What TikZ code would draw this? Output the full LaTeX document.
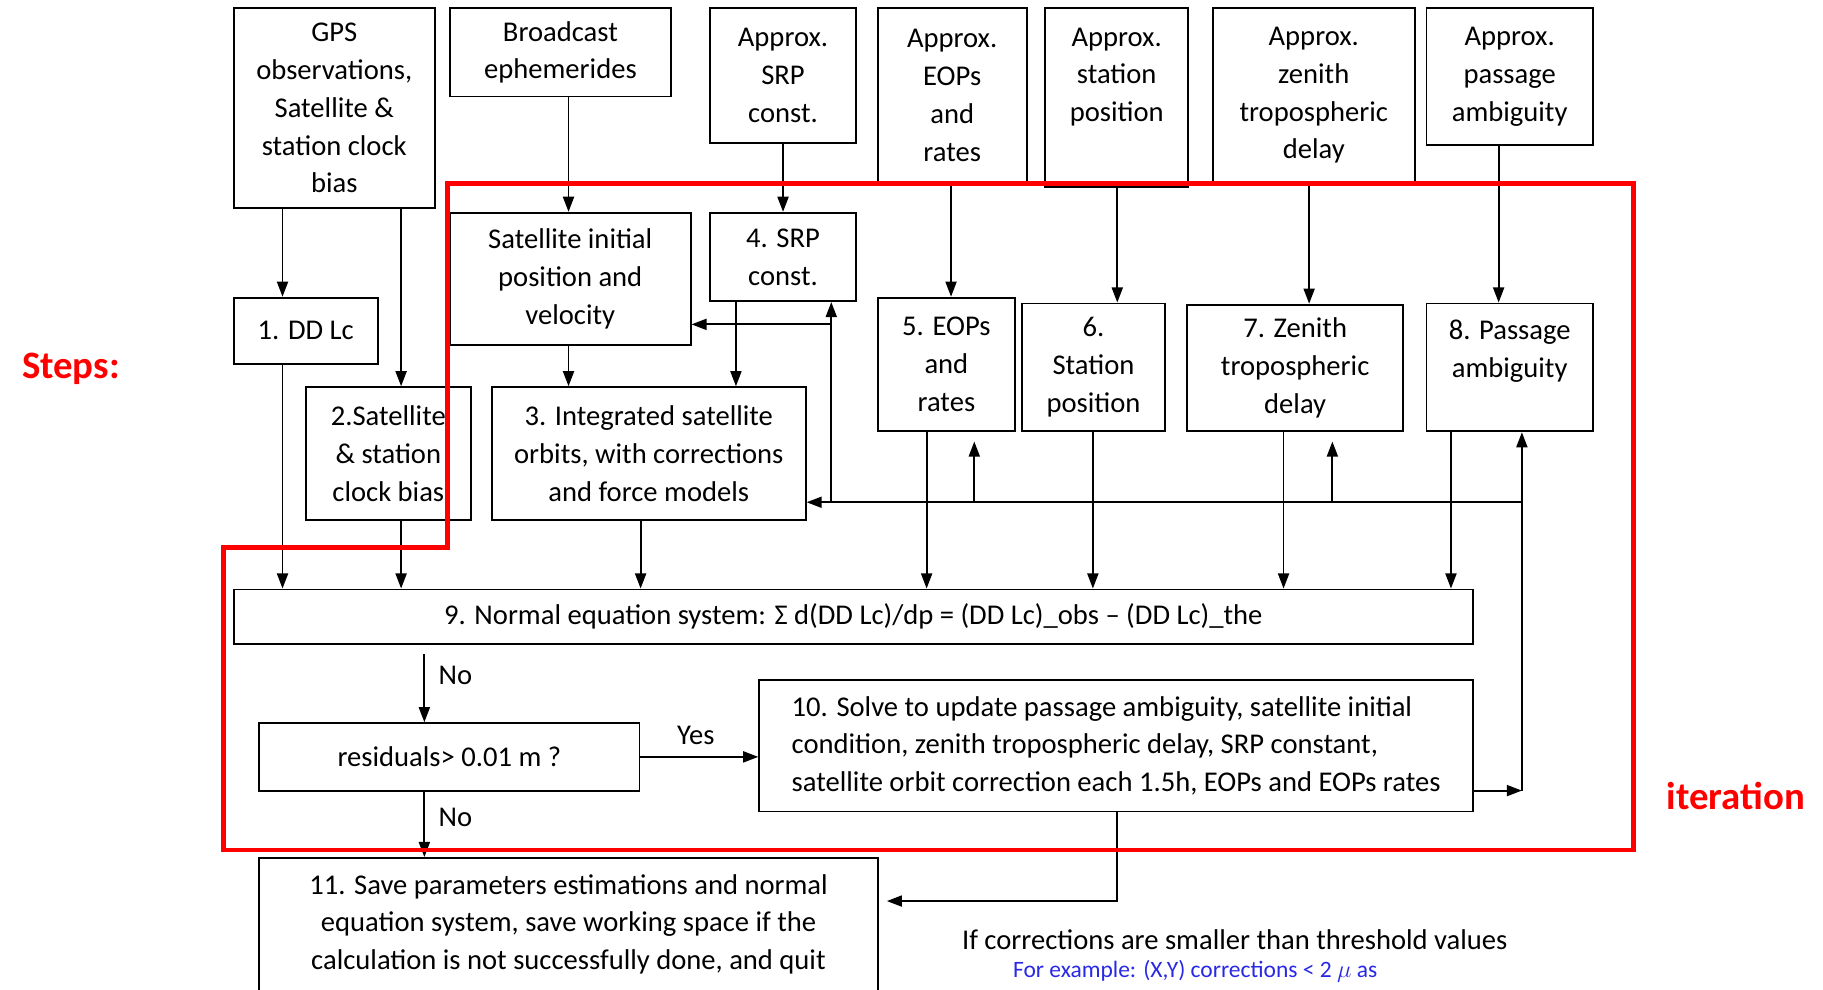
\documentclass[tikz,border=0pt]{standalone}
\usepackage{fontspec}
\setmainfont{Carlito}
\usepackage{xcolor}
\usepackage{tikz}
\usetikzlibrary{positioning, arrows.meta, calc}
\definecolor{iterred}{HTML}{FF0000}
\definecolor{noteblue}{HTML}{2828E6}
\newcommand{\diagfont}{\fontsize{14}{18.5}\selectfont}

\begin{document}
\begin{tikzpicture}[
  x=0.2mm, y=-0.2mm,
  >={Triangle[length=2.6mm, width=1.9mm]},
  font=\diagfont,
  box/.style={draw, line width=0.9pt, inner sep=0pt, align=center},
  arr/.style={->, line width=0.9pt},
  lbl/.style={font=\diagfont, inner sep=2pt},
  redlabel/.style={font=\bfseries\fontsize{19}{22}\selectfont, iterred},
  iterframe/.style={draw=iterred, line width=2.3pt}
]
\useasboundingbox (0,0) rectangle (1568,851);

% Approximate input values
\node[box, minimum width=34.6mm, minimum height=34.4mm] (gps) at (287.5,93)
  {GPS\\observations,\\Satellite \&\\station clock\\bias};
\node[box, minimum width=38mm, minimum height=15.2mm] (bcast) at (482,45)
  {Broadcast\\ephemerides};
\node[box, minimum width=25mm, minimum height=23.2mm] (asrp) at (673.5,65)
  {Approx.\\SRP\\const.};
\node[box, minimum width=25.6mm, minimum height=30mm] (aeop) at (819,82)
  {Approx.\\EOPs\\and\\rates};
\node[box, minimum width=24.6mm, minimum height=30.8mm] (asta) at (960.5,84)
  {Approx.\\station\\position\\[4pt]~};
\node[box, minimum width=34.8mm, minimum height=30mm] (azen) at (1130,82)
  {Approx.\\zenith\\tropospheric\\delay};
\node[box, minimum width=28.6mm, minimum height=23.6mm] (apas) at (1298.5,66)
  {Approx.\\passage\\ambiguity};

% Steps 1-8
\node[box, minimum width=24.8mm, minimum height=11.4mm] (ddlc) at (263,284.5)
  {1. DD Lc};
\node[box, minimum width=41.4mm, minimum height=22.8mm] (sinit) at (490.5,240)
  {Satellite initial\\position and\\velocity};
\node[box, minimum width=25mm, minimum height=15.2mm] (srp) at (673.5,221)
  {4. SRP\\const.};
\node[box, minimum width=28.4mm, minimum height=22.8mm] (sclk) at (334,390)
  {2.Satellite\\\& station\\clock bias};
\node[box, minimum width=54mm, minimum height=22.8mm] (orbit) at (558,390)
  {3. Integrated satellite\\orbits, with corrections\\and force models};
\node[box, minimum width=23.6mm, minimum height=23mm] (eop) at (814,313.5)
  {5. EOPs\\and\\rates};
\node[box, minimum width=24.6mm, minimum height=22mm] (sta) at (940.5,316)
  {6.\\Station\\position};
\node[box, minimum width=37.2mm, minimum height=21.8mm] (zen) at (1114,316.5)
  {7. Zenith\\tropospheric\\delay};
\node[box, minimum width=28.6mm, minimum height=22mm] (pas) at (1298.5,316)
  {8. Passage\\ambiguity\\~};

% Steps 9-11
\node[box, minimum width=213.2mm, minimum height=9.4mm] (neq) at (734,530.5)
  {9. Normal equation system: Σ d(DD Lc)/dp = (DD Lc)\_obs – (DD Lc)\_the};
\node[box, minimum width=65.4mm, minimum height=11.6mm] (resid) at (386.5,651)
  {residuals> 0.01 m ?};
\node[box, align=left, minimum width=122.8mm, minimum height=22.6mm] (solve) at (960,641.5)
  {10. Solve to update passage ambiguity, satellite initial\\
   condition, zenith tropospheric delay, SRP constant,\\
   satellite orbit correction each 1.5h, EOPs and EOPs rates};
\node[box, minimum width=106.4mm, minimum height=22.8mm] (save) at (489,795)
  {11. Save parameters estimations and normal\\
   equation system, save working space if the\\
   calculation is not successfully done, and quit};

% Notes
\node[lbl] (thr) at (1062,808) {If corrections are smaller than threshold values};
\node[lbl, font=\fontsize{11.5}{14}\selectfont, noteblue] (ex) at (1028,835)
  {For example: (X,Y) corrections < 2 $\mu$ as};
\node[redlabel] (steps) at (61,317) {Steps:};
\node[redlabel] (iter) at (1493,685) {iteration};

% Inputs to steps
\draw[arr] (243,0 |- gps.south) -- (243,0 |- ddlc.north);
\draw[arr] (345,0 |- gps.south) -- (345,0 |- sclk.north);
\draw[arr] (489,0 |- bcast.south) -- (489,0 |- sinit.north);
\draw[arr] (673.5,0 |- asrp.south) -- (673.5,0 |- srp.north);
\draw[arr] (818,0 |- aeop.south) -- (818,0 |- eop.north);
\draw[arr] (961,0 |- asta.south) -- (961,0 |- sta.north);
\draw[arr] (1126,0 |- azen.south) -- (1126,0 |- zen.north);
\draw[arr] (1289,0 |- apas.south) -- (1289,0 |- pas.north);

% Steps into the normal equations
\draw[arr] (489,0 |- sinit.south) -- (489,0 |- orbit.north);
\draw[arr] (633,0 |- srp.south) -- (633,0 |- orbit.north);
\draw[arr] (243,0 |- ddlc.south) -- (243,0 |- neq.north);
\draw[arr] (345,0 |- sclk.south) -- (345,0 |- neq.north);
\draw[arr] (551,0 |- orbit.south) -- (551,0 |- neq.north);
\draw[arr] (797,0 |- eop.south) -- (797,0 |- neq.north);
\draw[arr] (940,0 |- sta.south) -- (940,0 |- neq.north);
\draw[arr] (1104,0 |- zen.south) -- (1104,0 |- neq.north);
\draw[arr] (1248,0 |- pas.south) -- (1248,0 |- neq.north);

% Decision
\draw[arr, shorten <=1.6mm] (365,0 |- neq.south) --
  node[lbl, right, xshift=1.6mm, pos=0.4] {No} (365,0 |- resid.north);
\draw[arr] (resid.east) -- node[lbl, above, yshift=1.2mm, pos=0.47] {Yes} (resid.east -| solve.west);
\draw[arr] (365,0 |- resid.south) --
  node[lbl, right, xshift=1.6mm, pos=0.4] {No} (365,0 |- save.north);
\draw[arr, shorten >=1.4mm] (961,0 |- solve.south) |- (save.east |- 0,775);

% Iteration feedback
\coordinate (fb) at (1309,680);
\coordinate (bus) at (1309,432);
\draw[arr] (solve.east |- fb) -- (fb);
\draw[arr] (fb) -- (fb |- pas.south);
\draw[arr] (bus) -- (orbit.east |- bus);
\draw[arr, shorten >=1.6mm] (838,0 |- bus) -- (838,0 |- eop.south);
\draw[arr, shorten >=1.6mm] (1146,0 |- bus) -- (1146,0 |- zen.south);
\draw[arr] (715,0 |- bus) -- (715,0 |- srp.south);
\draw[arr] (715,279) -- (sinit.east |- 0,279);

% Iteration frame
\draw[iterframe] (385,158) -- (1405,158) -- (1405,731) -- (192,731)
  -- (192,471) -- (385,471) -- cycle;

\end{tikzpicture}
\end{document}
